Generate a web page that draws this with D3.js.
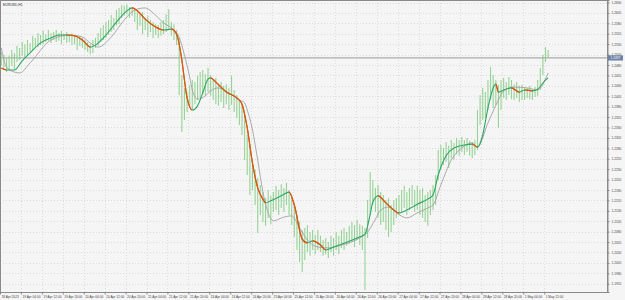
<!DOCTYPE html>
<html>
<head>
<meta charset="utf-8">
<script src="https://cdn.jsdelivr.net/npm/d3@7"></script>
<style>
  body { margin: 0; background: #f4f4f4; }
  text { font-family: "Liberation Sans", Arial, sans-serif; }
</style>
</head>
<body>
<div id="chart"></div>
<script>
const symbol = 'EURUSD,H1';
const bid = 1.2497;

const timeLabels = ['18 Apr 2023', '19 Apr 04:00', '19 Apr 12:00', '19 Apr 20:00', '20 Apr 04:00', '20 Apr 12:00',
  '20 Apr 20:00', '21 Apr 04:00', '21 Apr 12:00', '21 Apr 20:00', '24 Apr 04:00', '24 Apr 12:00', '24 Apr 20:00',
  '25 Apr 04:00', '25 Apr 12:00', '25 Apr 20:00', '26 Apr 04:00', '26 Apr 12:00', '26 Apr 20:00', '27 Apr 04:00',
  '27 Apr 12:00', '27 Apr 20:00', '28 Apr 04:00', '28 Apr 12:00', '28 Apr 20:00', '1 May 04:00', '1 May 12:00'];

const priceTicks = [1.2630, 1.2605, 1.2580, 1.2555, 1.2530, 1.2505, 1.2480, 1.2455, 1.2430, 1.2405, 1.2380,
  1.2355, 1.2330, 1.2305, 1.2280, 1.2255, 1.2230, 1.2205, 1.2180, 1.2155, 1.2130, 1.2105, 1.2080, 1.2055,
  1.2030, 1.2005, 1.1980, 1.1955];

// hourly bars, high / low
const barHigh = [
  1.2511, 1.2504, 1.2497, 1.2502, 1.2516, 1.2509, 1.2526, 1.2521, 1.2535, 1.2530,
  1.2540, 1.2533, 1.2550, 1.2545, 1.2557, 1.2552, 1.2562, 1.2554, 1.2564, 1.2557,
  1.2559, 1.2564, 1.2557, 1.2562, 1.2554, 1.2559, 1.2552, 1.2557, 1.2550, 1.2545,
  1.2550, 1.2545, 1.2540, 1.2535, 1.2530, 1.2540, 1.2545, 1.2557, 1.2569, 1.2576,
  1.2583, 1.2588, 1.2600, 1.2593, 1.2612, 1.2617, 1.2624, 1.2622, 1.2626, 1.2619,
  1.2617, 1.2612, 1.2607, 1.2602, 1.2607, 1.2593, 1.2598, 1.2588, 1.2583, 1.2578,
  1.2576, 1.2583, 1.2588, 1.2602, 1.2614, 1.2583, 1.2578, 1.2564, 1.2545, 1.2456,
  1.2425, 1.2415, 1.2432, 1.2444, 1.2439, 1.2454, 1.2463, 1.2468, 1.2458, 1.2473,
  1.2456, 1.2444, 1.2449, 1.2434, 1.2439, 1.2430, 1.2434, 1.2425, 1.2454, 1.2420,
  1.2408, 1.2396, 1.2384, 1.2360, 1.2312, 1.2288, 1.2252, 1.2228, 1.2209, 1.2192,
  1.2175, 1.2161, 1.2180, 1.2166, 1.2175, 1.2190, 1.2180, 1.2194, 1.2185, 1.2197,
  1.2180, 1.2161, 1.2144, 1.2120, 1.2103, 1.2084, 1.2089, 1.2096, 1.2079, 1.2084,
  1.2072, 1.2084, 1.2070, 1.2060, 1.2065, 1.2055, 1.2070, 1.2065, 1.2079, 1.2070,
  1.2084, 1.2089, 1.2079, 1.2094, 1.2103, 1.2096, 1.2108, 1.2098, 1.2094, 1.2089,
  1.2156, 1.2223, 1.2204, 1.2185, 1.2192, 1.2175, 1.2168, 1.2156, 1.2161, 1.2144,
  1.2156, 1.2161, 1.2168, 1.2180, 1.2190, 1.2175, 1.2185, 1.2192, 1.2180, 1.2190,
  1.2180, 1.2185, 1.2168, 1.2175, 1.2180, 1.2192, 1.2216, 1.2276, 1.2288, 1.2281,
  1.2295, 1.2286, 1.2300, 1.2293, 1.2305, 1.2300, 1.2307, 1.2300, 1.2305, 1.2298,
  1.2295, 1.2300, 1.2372, 1.2408, 1.2425, 1.2415, 1.2444, 1.2475, 1.2456, 1.2444,
  1.2432, 1.2444, 1.2449, 1.2439, 1.2451, 1.2444, 1.2434, 1.2439, 1.2430, 1.2432,
  1.2427, 1.2425, 1.2430, 1.2422, 1.2427, 1.2444, 1.2473, 1.2504, 1.2523, 1.2516
];
const barLow = [
  1.2478, 1.2468, 1.2463, 1.2468, 1.2478, 1.2470, 1.2487, 1.2492, 1.2502, 1.2497,
  1.2504, 1.2511, 1.2516, 1.2521, 1.2523, 1.2528, 1.2530, 1.2535, 1.2538, 1.2533,
  1.2540, 1.2535, 1.2538, 1.2530, 1.2540, 1.2533, 1.2535, 1.2528, 1.2530, 1.2516,
  1.2526, 1.2521, 1.2516, 1.2511, 1.2506, 1.2509, 1.2521, 1.2526, 1.2535, 1.2540,
  1.2545, 1.2552, 1.2559, 1.2564, 1.2574, 1.2578, 1.2593, 1.2598, 1.2602, 1.2593,
  1.2598, 1.2583, 1.2564, 1.2574, 1.2554, 1.2564, 1.2547, 1.2559, 1.2545, 1.2552,
  1.2545, 1.2550, 1.2554, 1.2559, 1.2564, 1.2550, 1.2540, 1.2528, 1.2408, 1.2319,
  1.2348, 1.2367, 1.2377, 1.2372, 1.2386, 1.2396, 1.2401, 1.2410, 1.2406, 1.2415,
  1.2406, 1.2396, 1.2386, 1.2382, 1.2391, 1.2377, 1.2386, 1.2372, 1.2384, 1.2367,
  1.2353, 1.2336, 1.2312, 1.2252, 1.2216, 1.2168, 1.2180, 1.2144, 1.2077, 1.2120,
  1.2103, 1.2094, 1.2113, 1.2098, 1.2127, 1.2132, 1.2120, 1.2137, 1.2127, 1.2144,
  1.2120, 1.2096, 1.2067, 1.2036, 1.2007, 1.1983, 1.2012, 1.2031, 1.2022, 1.2036,
  1.2026, 1.2036, 1.2031, 1.2022, 1.2026, 1.2017, 1.2031, 1.2022, 1.2036, 1.2026,
  1.2041, 1.2036, 1.2046, 1.2050, 1.2055, 1.2043, 1.2060, 1.2048, 1.2036, 1.1940,
  1.2065, 1.2120, 1.2144, 1.2127, 1.2113, 1.2096, 1.2103, 1.2084, 1.2067, 1.2079,
  1.2096, 1.2113, 1.2120, 1.2127, 1.2137, 1.2120, 1.2132, 1.2144, 1.2127, 1.2132,
  1.2120, 1.2113, 1.2103, 1.2094, 1.2120, 1.2132, 1.2144, 1.2204, 1.2228, 1.2240,
  1.2247, 1.2233, 1.2257, 1.2252, 1.2266, 1.2262, 1.2271, 1.2264, 1.2271, 1.2262,
  1.2257, 1.2264, 1.2276, 1.2336, 1.2348, 1.2353, 1.2372, 1.2396, 1.2377, 1.2384,
  1.2329, 1.2372, 1.2401, 1.2396, 1.2408, 1.2398, 1.2396, 1.2401, 1.2391, 1.2396,
  1.2396, 1.2401, 1.2398, 1.2396, 1.2403, 1.2406, 1.2420, 1.2456, 1.2487, 1.2497
];

// [bar index, value]
const fastMA = [
  [0, 1.2473], [2, 1.2468], [5, 1.2468], [8, 1.2490], [11, 1.2509], [15, 1.2533], [19, 1.2545], [22, 1.2552],
  [25, 1.2552], [28, 1.2550], [31, 1.2540], [34, 1.2523], [36, 1.2528], [40, 1.2552], [44, 1.2583], [48, 1.2610],
  [50, 1.2617], [52, 1.2610], [55, 1.2590], [59, 1.2571], [62, 1.2564], [65, 1.2566], [67, 1.2554], [69, 1.2492],
  [70, 1.2444], [71, 1.2401], [73, 1.2372], [75, 1.2382], [77, 1.2413], [79, 1.2446], [80, 1.2449], [82, 1.2439],
  [86, 1.2415], [90, 1.2401], [92, 1.2386], [94, 1.2329], [96, 1.2245], [98, 1.2185], [100, 1.2158], [101, 1.2149],
  [103, 1.2154], [107, 1.2166], [110, 1.2175], [112, 1.2144], [115, 1.2062], [117, 1.2053], [119, 1.2058],
  [122, 1.2048], [124, 1.2036], [127, 1.2043], [130, 1.2050], [136, 1.2065], [139, 1.2074], [141, 1.2122],
  [142, 1.2151], [144, 1.2166], [147, 1.2149], [150, 1.2132], [152, 1.2125], [155, 1.2132], [159, 1.2146],
  [163, 1.2158], [165, 1.2168], [167, 1.2216], [170, 1.2262], [173, 1.2281], [177, 1.2288], [180, 1.2290],
  [182, 1.2283], [184, 1.2312], [186, 1.2377], [188, 1.2425], [189, 1.2434], [190, 1.2415], [192, 1.2420],
  [195, 1.2425], [198, 1.2415], [200, 1.2420], [203, 1.2418], [205, 1.2422], [208, 1.2444], [209, 1.2449]
];
const slowMA = [
  [0, 1.2521], [2, 1.2475], [5, 1.2463], [7, 1.2461], [11, 1.2485], [19, 1.2540], [26, 1.2552], [31, 1.2547],
  [34, 1.2533], [37, 1.2523], [42, 1.2547], [47, 1.2588], [51, 1.2612], [55, 1.2617], [58, 1.2605], [62, 1.2581],
  [66, 1.2564], [68, 1.2547], [70, 1.2504], [72, 1.2451], [73, 1.2420], [75, 1.2398], [78, 1.2406], [80, 1.2418],
  [83, 1.2425], [87, 1.2413], [91, 1.2396], [93, 1.2389], [94, 1.2372], [96, 1.2324], [98, 1.2252], [100, 1.2175],
  [102, 1.2125], [104, 1.2106], [108, 1.2115], [111, 1.2118], [114, 1.2089], [117, 1.2060], [121, 1.2043],
  [125, 1.2041], [130, 1.2048], [137, 1.2065], [140, 1.2079], [143, 1.2110], [145, 1.2132], [148, 1.2139],
  [151, 1.2125], [155, 1.2113], [159, 1.2125], [163, 1.2137], [165, 1.2144], [168, 1.2192], [172, 1.2252],
  [176, 1.2281], [180, 1.2293], [182, 1.2283], [186, 1.2341], [190, 1.2396], [192, 1.2418], [196, 1.2427],
  [201, 1.2425], [205, 1.2420], [208, 1.2446], [209, 1.2461]
];

const W = 625, H = 300;
const plotW = 607, plotH = 292;
const barsPerLabel = 8;

const svg = d3.select('#chart').append('svg')
  .attr('width', W)
  .attr('height', H)
  .style('display', 'block');

svg.append('rect').attr('width', W).attr('height', H).attr('fill', '#f5f5f5');

const x = d3.scaleLinear().domain([0, 232]).range([0, plotW]);
const y = d3.scaleLinear().domain([1.19352, 1.2636]).range([plotH, 0]);

const labelIdx = timeLabels.map((d, i) => i * barsPerLabel);

// grid
const grid = svg.append('g').attr('stroke', '#d4d4d4').attr('stroke-dasharray', '1,2').attr('stroke-width', 0.8);
grid.selectAll('.hg').data(priceTicks).join('line')
  .attr('x1', 0).attr('x2', plotW)
  .attr('y1', d => Math.round(y(d)) + 0.5).attr('y2', d => Math.round(y(d)) + 0.5);
grid.selectAll('.vg').data(labelIdx.slice(1)).join('line')
  .attr('y1', 0).attr('y2', plotH)
  .attr('x1', d => Math.round(x(d)) + 0.5).attr('x2', d => Math.round(x(d)) + 0.5);

// bid line
svg.append('line')
  .attr('x1', 0).attr('x2', plotW)
  .attr('y1', y(bid)).attr('y2', y(bid))
  .attr('stroke', '#ababab').attr('stroke-width', 1.2);

// bars
svg.append('g').selectAll('line').data(barHigh).join('line')
  .attr('x1', (d, i) => x(i) + 1.3)
  .attr('x2', (d, i) => x(i) + 1.3)
  .attr('y1', d => y(d))
  .attr('y2', (d, i) => y(barLow[i]))
  .attr('stroke', '#7ecb7e')
  .attr('stroke-opacity', 0.8)
  .attr('stroke-width', 1.1);

// indicators
const line = d3.line()
  .x(d => x(d[0]) + 1.3)
  .y(d => y(d[1]))
  .curve(d3.curveMonotoneX);

svg.append('path').datum(slowMA)
  .attr('d', line)
  .attr('fill', 'none')
  .attr('stroke', '#a2a2a2')
  .attr('stroke-width', 0.9);

const falling = [];
for (let j = 0; j < fastMA.length - 1; j++) {
  if (fastMA[j + 1][1] < fastMA[j][1]) falling.push([fastMA[j][0], fastMA[j + 1][0]]);
}
const clip = svg.append('clipPath').attr('id', 'fall');
clip.selectAll('rect').data(falling).join('rect')
  .attr('x', d => x(d[0]) + 1.3)
  .attr('width', d => x(d[1]) - x(d[0]))
  .attr('y', 0)
  .attr('height', plotH);

svg.append('path').datum(fastMA)
  .attr('d', line)
  .attr('fill', 'none')
  .attr('stroke', '#2aa862')
  .attr('stroke-width', 1.1);
svg.append('path').datum(fastMA)
  .attr('d', line)
  .attr('fill', 'none')
  .attr('stroke', '#ff4800')
  .attr('stroke-width', 1.2)
  .attr('clip-path', 'url(#fall)');

// frame + axes
svg.append('rect')
  .attr('x', 0.5).attr('y', 0.5)
  .attr('width', plotW).attr('height', plotH)
  .attr('fill', 'none').attr('stroke', '#8a8a8a').attr('stroke-width', 1);

const yAxis = svg.append('g')
  .attr('transform', `translate(${plotW + 0.5},0)`)
  .call(d3.axisRight(y).tickValues(priceTicks).tickSize(2).tickPadding(2).tickFormat(d3.format('.4f')));
yAxis.select('.domain').attr('stroke', '#8a8a8a');
yAxis.selectAll('.tick line').attr('stroke', '#8a8a8a');
yAxis.selectAll('text').attr('font-size', 3.2).attr('fill', '#444');

const xAxis = svg.append('g')
  .attr('transform', `translate(0,${plotH + 0.5})`)
  .call(d3.axisBottom(x).tickValues(labelIdx).tickSize(2).tickPadding(1).tickFormat((d, i) => timeLabels[i]));
xAxis.select('.domain').remove();
xAxis.selectAll('.tick line').attr('stroke', '#8a8a8a');
xAxis.selectAll('text')
  .attr('font-size', 3.2)
  .attr('fill', '#444')
  .attr('text-anchor', 'start')
  .attr('dx', 1);

// bid label
const bidG = svg.append('g').attr('transform', `translate(${plotW + 1},${y(bid)})`);
bidG.append('rect').attr('x', 0).attr('y', -2.6).attr('width', 15).attr('height', 5.2).attr('fill', '#6d83a6');
bidG.append('text').attr('x', 2.5).attr('y', 1.1).attr('font-size', 3.2).attr('fill', '#fff').text(d3.format('.4f')(bid));

svg.append('text')
  .attr('x', 3).attr('y', 6)
  .attr('font-size', 3.4)
  .attr('fill', '#333')
  .text(symbol);
</script>
</body>
</html>
